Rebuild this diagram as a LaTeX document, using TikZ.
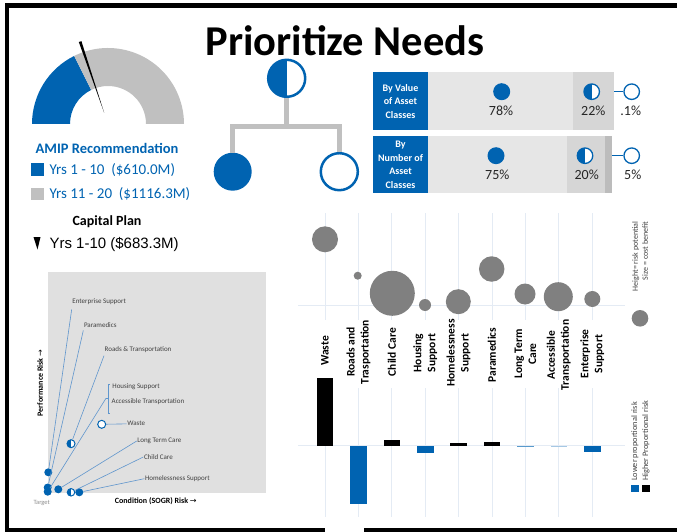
\documentclass[tikz,border=0pt]{standalone}
\usepackage{fontspec}
\setmainfont{Carlito}
\newfontfamily\arialfont{Liberation Sans}
\newfontfamily\arrowfont{DejaVu Sans}
\usepackage{tikz}
\usetikzlibrary{positioning}
\definecolor{amipblue}{RGB}{0,99,177}
\definecolor{gaugegray}{RGB}{192,192,192}
\definecolor{barlight}{RGB}{230,230,230}
\definecolor{barmid}{RGB}{214,214,214}
\definecolor{bardark}{RGB}{188,188,188}
\definecolor{bubblegray}{RGB}{128,128,128}
\definecolor{panelgray}{RGB}{224,224,224}
\definecolor{leaderblue}{RGB}{95,150,205}
\definecolor{gridblue}{RGB}{228,235,244}
\definecolor{labelgray}{RGB}{64,64,64}
\tikzset{>=latex}

\begin{document}
\begin{tikzpicture}[x=1pt, y=-1pt,
  frame/.style={line width=4.5pt},
  fulldot/.style={circle, fill=amipblue, inner sep=0pt, minimum size=#1},
  opendot/.style={circle, draw=amipblue, fill=white, inner sep=0pt, minimum size=#1},
  halfdot/.style={opendot=#1, path picture={\fill[amipblue] (path picture bounding box.north) rectangle (path picture bounding box.south west);}},
  branch/.style={draw=gaugegray, line width=5pt},
  tagbox/.style={fill=amipblue, text=white, font=\bfseries\fontsize{10}{13.5}\selectfont, align=center, minimum width=55.6pt, inner sep=0pt, outer sep=0pt},
  barpart/.style={inner sep=0pt, outer sep=0pt, anchor=west},
  pct/.style={font=\fontsize{14}{16}\selectfont, text=black!85},
  riskdot/.style={fulldot=8pt},
  risklabel/.style={anchor=west, inner sep=0.5pt, font=\fontsize{7}{8}\selectfont, text=labelgray},
  leader/.style={draw=leaderblue, line width=0.6pt},
  grid/.style={draw=gridblue, line width=0.8pt},
  bubble/.style={circle, fill=bubblegray, inner sep=0pt, minimum size=#1},
  catlabel/.style={rotate=90, align=center, font=\bfseries\fontsize{11.5}{14}\selectfont}
]
\useasboundingbox (0,0) rectangle (677,532);

\draw[frame] (677,5.5) -- (7,5.5) -- (7,530) -- (325,530);
\draw[frame] (364,530) -- (677,530);

\node[font=\bfseries\fontsize{42.5}{48}\selectfont, anchor=base] (title) at (345,55.5) {Prioritize Needs};

\begin{scope}[shift={(108,124)}, y=1pt]
  \fill[amipblue] (180:76) arc (180:116.4:76) -- (116.4:38) arc (116.4:180:38) -- cycle;
  \fill[gaugegray] (116.4:76) arc (116.4:0:76) -- (0:38) arc (0:116.4:38) -- cycle;
  \fill (108.8:12) -- (107.8:87) -- (109.6:87) -- cycle;
\end{scope}

\node[font=\bfseries\fontsize{14.5}{17}\selectfont, text=amipblue] (amip) at (107,148) {AMIP Recommendation};
\fill[amipblue] (31,163) rectangle (44,176);
\node[anchor=west, font=\fontsize{15}{18}\selectfont, text=amipblue] (shortterm) at (46,170) {Yrs 1 - 10\ \ (\$610.0M)};
\fill[gaugegray] (31,188) rectangle (44,200);
\node[anchor=west, font=\fontsize{15}{18}\selectfont, text=amipblue] (longterm) at (46,194) {Yrs 11 - 20\ \ (\$1116.3M)};
\node[font=\bfseries\fontsize{14}{17}\selectfont] (capplan) at (107,222) {Capital Plan};
\fill (33.5,237) -- (40.5,237) -- (37.5,249.5) -- cycle;
\node[anchor=west, font=\arialfont\fontsize{15}{18}\selectfont] (capyrs) at (46,244) {Yrs 1-10 (\$683.3M)};

\node[halfdot=37pt, line width=2.5pt] (root) at (286.7,78.3) {};
\node[fulldot=38pt] (lowrisk) at (232.7,171.7) {};
\node[opendot=37pt, line width=2.5pt] (norisk) at (339.3,171.7) {};
\coordinate (fork) at (286.7,127);
\draw[branch] (root.south) -- (fork);
\draw[branch] (fork) -| (lowrisk.north);
\draw[branch] (fork) -| (norisk.north);

\node[tagbox, minimum height=57.7pt] (valtag) at (400.5,101.2) {By Value\\of Asset\\Classes};
\node[barpart, fill=barlight, minimum width=145pt, minimum height=57.7pt] (valmain) at (valtag.east) {};
\node[barpart, fill=barmid, minimum width=41pt, minimum height=57.7pt] (valpart) at (valmain.east) {};
\node[fulldot=17pt] (valall) at (501.7,91.7) {};
\node[pct] (valallpct) at (501,111) {78\%};
\node[halfdot=15.5pt, line width=1.3pt] (valsome) at (591.7,91.7) {};
\node[pct] (valsomepct) at (593.3,111) {22\%};
\node[opendot=15.5pt, line width=1.3pt] (valnone) at (631.7,91.7) {};
\node[pct] (valnonepct) at (630.7,111) {.1\%};
\draw[amipblue, line width=1.3pt] (valpart.east |- valnone) -- (valnone);

\node[tagbox, minimum height=57.3pt] (numtag) at (400.5,164.7) {By\\Number of\\Asset\\Classes};
\node[barpart, fill=barlight, minimum width=139pt, minimum height=57.3pt] (nummain) at (numtag.east) {};
\node[barpart, fill=barmid, minimum width=37.7pt, minimum height=57.3pt] (numpart) at (nummain.east) {};
\node[barpart, fill=bardark, minimum width=7.3pt, minimum height=57.3pt] (numrest) at (numpart.east) {};
\node[fulldot=17pt] (numall) at (496,155.7) {};
\node[pct] (numallpct) at (497.3,174.3) {75\%};
\node[halfdot=15.5pt, line width=1.3pt] (numsome) at (585,155.7) {};
\node[pct] (numsomepct) at (586.7,174.3) {20\%};
\node[opendot=15.5pt, line width=1.3pt] (numnone) at (631.7,155.7) {};
\node[pct] (numnonepct) at (632.7,174.3) {5\%};
\draw[amipblue, line width=1.3pt] (numrest.east |- numnone) -- (numnone);

\fill[panelgray, draw=black!12] (47.7,272.3) rectangle (265,492.3);
\node[risklabel] (enterlab) at (71.7,301.7) {Enterprise Support};
\node[risklabel] (paralab) at (83.3,325.3) {Paramedics};
\node[risklabel] (roadlab) at (104,350) {Roads \& Transportation};
\node[risklabel] (houselab) at (111.7,387) {Housing Support};
\node[risklabel] (accesslab) at (111,401.7) {Accessible Transportation};
\node[risklabel] (wastelab) at (126.7,423.7) {Waste};
\node[risklabel] (ltclab) at (136.7,441) {Long Term Care};
\node[risklabel] (childlab) at (143.3,457) {Child Care};
\node[risklabel] (homelab) at (144.3,478.7) {Homelessness Support};
\coordinate (pair) at (106,398.3);
\draw[leader] (110,384.3) -- (108.3,384.3) -- (108.3,413.3) -- (110,413.3);
\draw[leader] (108.3,398.3) -- (pair);

\node[riskdot] (enterprise) at (48.3,472.3) {};
\node[riskdot] (paramedics) at (47.7,487.5) {};
\node[riskdot] (housing) at (47.7,491.7) {};
\node[riskdot] (longcare) at (58.3,489.3) {};
\node[halfdot=7.5pt, line width=1pt] (childcare) at (71,492.3) {};
\node[riskdot] (homeless) at (79.3,492.3) {};
\node[halfdot=8pt, line width=1pt] (roads) at (71,443.7) {};
\node[opendot=8pt, line width=1pt] (waste) at (101.7,424.3) {};
\draw[leader] ([yshift=-4pt]enterlab.south west) -- (enterprise);
\draw[leader] ([yshift=-2pt]paralab.south west) -- (paramedics);
\draw[leader] ([yshift=-2pt]roadlab.south west) -- (roads);
\draw[leader] (pair) -- (housing);
\draw[leader] (waste) -- (wastelab);
\draw[leader] (ltclab.west) -- (longcare);
\draw[leader] (childlab.west) -- (childcare);
\draw[leader] (homelab.west) -- (homeless);
\node[rotate=90, font=\bfseries\fontsize{8}{9}\selectfont] (perf) at (40,383) {Performance Risk {\arrowfont\mdseries →}};
\node[font=\bfseries\fontsize{8}{9}\selectfont] (cond) at (155.8,500.7) {Condition (SOGR) Risk {\arrowfont\mdseries →}};
\node[font=\fontsize{6.5}{8}\selectfont, text=black!45] (target) at (41.7,503.3) {Target};

\draw[grid] (298,305) -- (625,305);
\draw[grid] (298,445.7) -- (625,445.7);
\draw[grid] (325,213) -- (325,320) (358.4,213) -- (358.4,320) (391.8,213) -- (391.8,320)
  (425.2,213) -- (425.2,320) (458.6,213) -- (458.6,320) (492,213) -- (492,320)
  (525.4,213) -- (525.4,320) (558.8,213) -- (558.8,320) (592.2,213) -- (592.2,320);
\draw[grid] (325,388) -- (325,517) (358.4,388) -- (358.4,517) (391.8,388) -- (391.8,517)
  (425.2,388) -- (425.2,517) (458.6,388) -- (458.6,517) (492,388) -- (492,517)
  (525.4,388) -- (525.4,517) (558.8,388) -- (558.8,517) (592.2,388) -- (592.2,517);

\node[bubble=26pt] (bubwaste) at (325,239.3) {};
\node[bubble=8pt] (bubroads) at (357.7,275.7) {};
\node[bubble=45pt] (bubchild) at (392.3,293.3) {};
\node[bubble=12pt] (bubhouse) at (425,305) {};
\node[bubble=25pt] (bubhome) at (458.3,301.7) {};
\node[bubble=25.5pt] (bubpara) at (491.7,269) {};
\node[bubble=21pt] (bubltc) at (525,294) {};
\node[bubble=29pt] (bubaccess) at (558.3,296.7) {};
\node[bubble=16pt] (bubenter) at (592.3,299) {};
\node[bubble=16.6pt] (bubkey) at (640,318.3) {};
\node[rotate=90, anchor=east, align=right, inner sep=0pt, font=\fontsize{8}{10}\selectfont, text=labelgray] (bubnote) at (640,221.5) {Height= risk potential\\Size = cost benefit};

\node[catlabel] (catwaste) at (325,351) {Waste};
\node[catlabel] (catroads) at (358.4,352) {Roads and\\Trasportation};
\node[catlabel] (catchild) at (391.8,352) {Child Care};
\node[catlabel] (cathouse) at (425.2,353) {Housing\\Support};
\node[catlabel] (cathome) at (458.6,353) {Homelessness\\Support};
\node[catlabel] (catpara) at (492,355) {Paramedics};
\node[catlabel] (catltc) at (525.4,354) {Long Term\\Care};
\node[catlabel] (cataccess) at (558.8,355) {Accessible\\Transportation};
\node[catlabel] (catenter) at (592.2,354) {Enterprise\\Support};

\fill[black] (316.7,378.3) rectangle (333.3,445.7);
\fill[amipblue] (350,445.7) rectangle (366.7,504);
\fill[black] (383.5,440.3) rectangle (400.1,445.7);
\fill[amipblue] (416.9,445.7) rectangle (433.5,452.7);
\fill[black] (450.3,443.2) rectangle (466.9,445.7);
\fill[black] (483.7,442) rectangle (500.3,445.7);
\fill[amipblue!65] (517.1,445.7) rectangle (533.7,447.2);
\fill[amipblue!35] (550.5,445.7) rectangle (567.1,446.6);
\fill[amipblue] (583.9,445.7) rectangle (600.5,452.2);

\fill[amipblue] (630.7,485) rectangle (639.3,492.3);
\fill[black] (641.7,485) rectangle (650.3,492.3);
\node[rotate=90, anchor=west, align=left, inner sep=0pt, font=\fontsize{8.3}{11}\selectfont, text=labelgray] (barnote) at (640.5,481) {Lower proportional risk\\Higher Proportional risk};
\end{tikzpicture}
\end{document}
